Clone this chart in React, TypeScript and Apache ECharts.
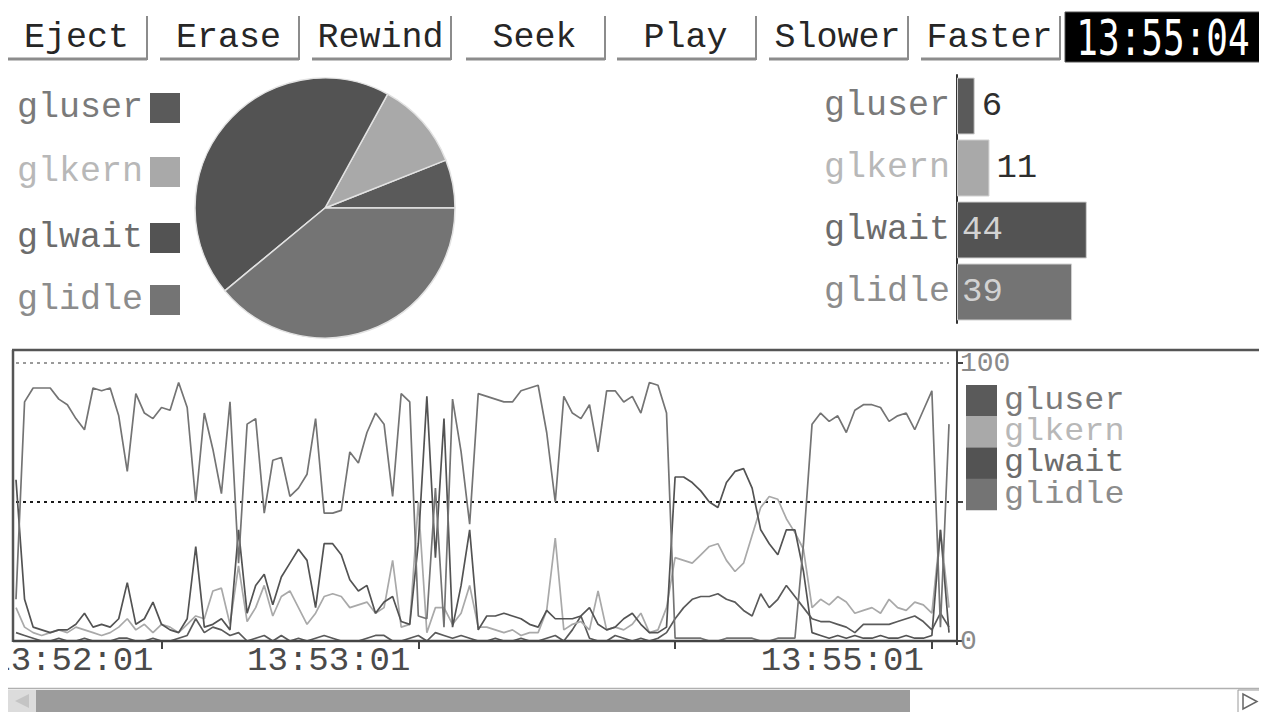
import React, { useEffect, useRef } from 'react';
import * as echarts from 'echarts';

// ---------- data ----------
const SERIES_NAMES = ['gluser', 'glkern', 'glwait', 'glidle'];
const CURRENT_VALUES = [6, 11, 44, 39];
const BUTTON_LABELS = ['Eject', 'Erase', 'Rewind', 'Seek', 'Play', 'Slower', 'Faster'];
const CLOCK_TEXT = '13:55:04';
const START_TIME = '13:51:27';
const SAMPLE_STEP_SECONDS = 2;
const TICK_MARK_TIMES = ['13:52:01', '13:53:01', '13:54:01', '13:55:01'];
const TICK_LABEL_TIMES = ['13:52:01', '13:53:01', '13:55:01'];
const Y_TICK_LABELS = ['0', '100'];

const GLUSER = [
  3, 2, 1, 0, 0, 1, 0, 0, 1, 0,
  0, 0, 1, 1, 0, 0, 1, 0, 0, 1,
  2, 8, 3, 5, 4, 2, 3, 0, 1, 2,
  0, 2, 0, 1, 0, 1, 2, 1, 0, 0,
  0, 1, 2, 2, 0, 0, 1, 2, 0, 3,
  2, 1, 2, 1, 0, 0, 1, 0, 0, 1,
  0, 0, 1, 2, 0, 4, 9, 1, 0, 0,
  2, 1, 0, 1, 0, 1, 3, 8, 12, 15,
  16, 16, 17, 15, 14, 11, 9, 17, 12, 15,
  20, 16, 12, 8, 7, 7, 6, 5, 3, 6,
  6, 6, 6, 7, 8, 9, 7, 4, 10, 5,
];
const GLKERN = [
  12, 5, 3, 2, 3, 4, 3, 5, 4, 3,
  2, 3, 5, 8, 4, 6, 3, 6, 5, 3,
  6, 9, 8, 18, 19, 6, 27, 7, 12, 20,
  9, 16, 18, 12, 6, 10, 16, 17, 16, 12,
  13, 14, 10, 12, 29, 5, 6, 50, 3, 12,
  12, 6, 10, 20, 5, 5, 4, 3, 4, 2,
  3, 3, 11, 37, 4, 6, 7, 4, 18, 4,
  5, 4, 6, 10, 3, 4, 12, 30, 29, 28,
  31, 34, 35, 29, 25, 28, 38, 48, 52, 51,
  44, 39, 33, 12, 15, 13, 16, 14, 10, 11,
  12, 10, 15, 12, 11, 14, 13, 10, 40, 12,
];
const GLWAIT = [
  58, 15, 5, 4, 3, 4, 4, 6, 10, 5,
  6, 5, 8, 21, 6, 8, 14, 6, 4, 3,
  8, 34, 5, 6, 8, 4, 40, 10, 20, 24,
  13, 23, 28, 33, 29, 12, 35, 35, 31, 22,
  18, 20, 10, 14, 16, 7, 6, 35, 88, 30,
  80, 5, 20, 40, 4, 9, 9, 10, 9, 8,
  6, 5, 11, 8, 8, 8, 9, 12, 6, 4,
  5, 8, 10, 6, 3, 3, 5, 59, 59, 57,
  54, 50, 48, 57, 61, 62, 55, 40, 35, 31,
  40, 40, 25, 3, 2, 1, 2, 1, 2, 1,
  1, 2, 1, 1, 2, 1, 1, 2, 40, 3,
];
const GLIDLE = [
  15, 86, 91, 91, 91, 87, 85, 80, 76, 91,
  90, 91, 81, 61, 89, 82, 80, 84, 83, 93,
  84, 50, 82, 69, 53, 86, 28, 78, 80, 46,
  65, 66, 52, 55, 60, 80, 46, 46, 47, 68,
  64, 75, 82, 78, 52, 89, 86, 9, 8, 55,
  5, 87, 68, 42, 89, 88, 87, 86, 86, 90,
  91, 92, 75, 50, 88, 82, 80, 85, 68, 90,
  90, 86, 88, 82, 93, 92, 82, 1, 1, 1,
  1, 0, 0, 1, 1, 1, 1, 0, 0, 1,
  1, 1, 35, 78, 82, 79, 81, 75, 83, 85,
  85, 84, 79, 81, 82, 76, 83, 90, 5, 78,
];
const SERIES_VALUES = [GLUSER, GLKERN, GLWAIT, GLIDLE];

// ---------- style ----------
const MONO = '"Liberation Mono", "Courier New", monospace';
const COLORS = ['#5a5a5a', '#a9a9a9', '#535353', '#747474'];
const TEXT_COLORS = ['#7a7a7a', '#b8b8b8', '#6c6c6c', '#8c8c8c'];
const OFF = 8; // body margin: page coordinates -> chart coordinates
const P = (v: number) => v - OFF;

const BUTTON_LEFTS = [8, 160, 312, 466, 617, 769, 921];
const BUTTON_WIDTH = 139;

function buildTimes(start: string, step: number, count: number): string[] {
  const [h, m, s] = start.split(':').map(Number);
  const base = h * 3600 + m * 60 + s;
  const pad = (n: number) => String(n).padStart(2, '0');
  const out: string[] = [];
  for (let i = 0; i < count; i++) {
    const t = base + i * step;
    out.push(`${pad(Math.floor(t / 3600))}:${pad(Math.floor((t % 3600) / 60))}:${pad(t % 60)}`);
  }
  return out;
}
const CATEGORIES = buildTimes(START_TIME, SAMPLE_STEP_SECONDS, GLIDLE.length);

function buildGraphics(): any[] {
  const g: any[] = [];
  const txt = (x: number, y: number, text: string, size: number, fill: string, align = 'left', extra: any = {}) => ({
    type: 'text',
    x: P(x),
    y: P(y),
    z: 100,
    ...extra,
    style: {
      text,
      fill,
      fontSize: size,
      fontFamily: MONO,
      textAlign: align,
      textVerticalAlign: 'middle',
      align,
      verticalAlign: 'middle',
    },
  });
  const line = (x1: number, y1: number, x2: number, y2: number, stroke: string, w: number) => ({
    type: 'line',
    z: 100,
    shape: { x1: P(x1), y1: P(y1), x2: P(x2), y2: P(y2) },
    style: { stroke, lineWidth: w },
  });
  const rect = (x: number, y: number, w: number, h: number, fill: string, stroke?: string) => ({
    type: 'rect',
    z: 100,
    shape: { x: P(x), y: P(y), width: w, height: h },
    style: { fill, stroke: stroke || null, lineWidth: stroke ? 1 : 0 },
  });

  // buttons
  BUTTON_LABELS.forEach((label, i) => {
    const x1 = BUTTON_LEFTS[i];
    const x2 = x1 + BUTTON_WIDTH;
    g.push(line(x1, 59, x2, 59, '#8c8c8c', 3));
    g.push(line(x2, 16, x2, 60, '#8c8c8c', 2));
    g.push(txt((x1 + x2) / 2 - 1, 38, label, 35, '#262626', 'center'));
  });

  // clock
  g.push(rect(1065, 12, 197, 50, '#000000', '#555555'));
  g.push({
    type: 'text',
    x: P(1163),
    y: P(37.5),
    z: 101,
    scaleY: 1.38,
    style: {
      text: CLOCK_TEXT,
      fill: '#ffffff',
      fontSize: 36,
      fontFamily: '"DejaVu Sans Mono", monospace',
      textAlign: 'center',
      textVerticalAlign: 'middle',
      align: 'center',
      verticalAlign: 'middle',
    },
  });

  // pie legend
  const pieLegendY = [108, 172, 238, 300];
  SERIES_NAMES.forEach((n, i) => {
    g.push(txt(17, pieLegendY[i], n, 35, TEXT_COLORS[i]));
    g.push(rect(150, pieLegendY[i] - 15, 30, 30, COLORS[i]));
  });

  // line chart frame
  g.push(line(12, 350, 1262, 350, '#555555', 2.5));
  g.push(line(13, 350, 13, 642, '#555555', 2.5));
  g.push(line(13, 641, 957, 641, '#444444', 2.5));
  g.push(line(957, 350, 957, 645, '#444444', 2));

  // line chart legend
  SERIES_NAMES.forEach((n, i) => {
    const y0 = 385 + 31.25 * i;
    g.push(rect(966, y0, 31, 31.5, COLORS[i]));
    g.push(txt(1004, y0 + 15.6, n, 31, TEXT_COLORS[i], 'left', { scaleX: 1.08 }));
  });

  // scrollbar
  g.push(rect(8, 689, 1254, 30, '#ffffff'));
  g.push(line(8, 688.5, 1262, 688.5, '#b0b0b0', 1.5));
  g.push(rect(8, 690, 28, 30, '#dcdcdc'));
  g.push({
    type: 'polygon',
    z: 101,
    shape: { points: [[P(29), P(694)], [P(29), P(708)], [P(15), P(701)]] },
    style: { fill: '#c4c4c4' },
  });
  g.push(rect(36, 690, 874, 30, '#9c9c9c'));
  g.push(rect(1238, 690, 24, 30, '#ffffff', '#9a9a9a'));
  g.push({
    type: 'polygon',
    z: 101,
    shape: { points: [[P(1243), P(694)], [P(1243), P(709)], [P(1257), P(701.5)]] },
    style: { fill: '#ffffff', stroke: '#666666', lineWidth: 1.5 },
  });

  return g;
}

export default function App() {
  const ref = useRef<HTMLDivElement>(null);

  useEffect(() => {
    document.documentElement.style.overflow = 'hidden';
    document.body.style.overflow = 'hidden';
    if (!ref.current) return;
    const chart = echarts.init(ref.current, null, { renderer: 'svg' });

    const lineSeries = SERIES_NAMES.map((name, i) => ({
      name,
      type: 'line',
      xAxisIndex: 0,
      yAxisIndex: 0,
      data: SERIES_VALUES[i],
      showSymbol: false,
      symbol: 'none',
      lineStyle: { color: COLORS[i], width: 1.7 },
      itemStyle: { color: COLORS[i] },
      emphasis: { disabled: true },
      z: 2 + i,
    }));

    const option: any = {
      animation: false,
      backgroundColor: '#ffffff',
      textStyle: { fontFamily: MONO },
      grid: [
        { left: P(16), top: P(363), width: 933, height: 278, containLabel: false, outerBoundsMode: 'none' },
        { left: P(957), top: P(75), width: 295, height: 248, containLabel: false, outerBoundsMode: 'none' },
      ],
      xAxis: [
        {
          gridIndex: 0,
          type: 'category',
          boundaryGap: false,
          data: CATEGORIES,
          axisLine: { show: false },
          axisTick: {
            show: true,
            interval: (_: number, v: string) => TICK_MARK_TIMES.includes(v),
            length: 8,
            lineStyle: { color: '#444444', width: 2 },
          },
          axisLabel: {
            interval: (_: number, v: string) => TICK_LABEL_TIMES.includes(v),
            align: 'right',
            padding: [0, 8, 0, 0],
            margin: 3,
            fontFamily: MONO,
            fontSize: 34,
            color: '#4a4a4a',
          },
          splitLine: { show: false },
        },
        { gridIndex: 1, type: 'value', min: 0, max: 100, show: false },
      ],
      yAxis: [
        {
          gridIndex: 0,
          type: 'value',
          position: 'right',
          offset: 8,
          min: 0,
          max: 100,
          interval: 50,
          axisLine: { show: false },
          axisTick: { show: true, length: 6, lineStyle: { color: '#444444', width: 2 } },
          axisLabel: {
            formatter: (v: number) => (Y_TICK_LABELS.includes(String(v)) ? String(v) : ''),
            fontFamily: MONO,
            fontSize: 28,
            color: '#8a8a8a',
            margin: 3,
          },
          splitLine: {
            show: true,
            lineStyle: { type: [3, 4], width: 2, color: ['#444444', '#1a1a1a', '#9a9a9a'] },
          },
        },
        {
          gridIndex: 1,
          type: 'category',
          inverse: true,
          data: SERIES_NAMES,
          axisLine: { show: true, lineStyle: { color: '#333333', width: 2 } },
          axisTick: { show: false },
          axisLabel: {
            margin: 7,
            fontFamily: MONO,
            fontSize: 35,
            color: (v: string) => TEXT_COLORS[SERIES_NAMES.indexOf(v)] || '#888',
          },
        },
      ],
      series: [
        ...lineSeries,
        {
          type: 'bar',
          xAxisIndex: 1,
          yAxisIndex: 1,
          barWidth: 57,
          emphasis: { disabled: true },
          label: { show: true, fontFamily: MONO, fontSize: 34 },
          itemStyle: { borderColor: '#d0d0d0', borderWidth: 1 },
          data: CURRENT_VALUES.map((v, i) => ({
            value: v,
            itemStyle: { color: COLORS[i] },
            label:
              v < 20
                ? { position: 'right', color: '#2e2e2e', distance: 7 }
                : { position: 'insideLeft', color: '#d2d2d2', distance: 5 },
          })),
        },
        {
          type: 'pie',
          center: [P(325), P(208)],
          radius: 130,
          startAngle: 0,
          clockwise: false,
          label: { show: false },
          labelLine: { show: false },
          emphasis: { disabled: true },
          itemStyle: { borderColor: '#e2e2e2', borderWidth: 1.5 },
          data: SERIES_NAMES.map((n, i) => ({
            name: n,
            value: CURRENT_VALUES[i],
            itemStyle: { color: COLORS[i] },
          })),
        },
      ],
      graphic: buildGraphics(),
    };

    chart.setOption(option);
    return () => chart.dispose();
  }, []);

  return <div ref={ref} style={{ width: 1259, height: 704 }} />;
}
